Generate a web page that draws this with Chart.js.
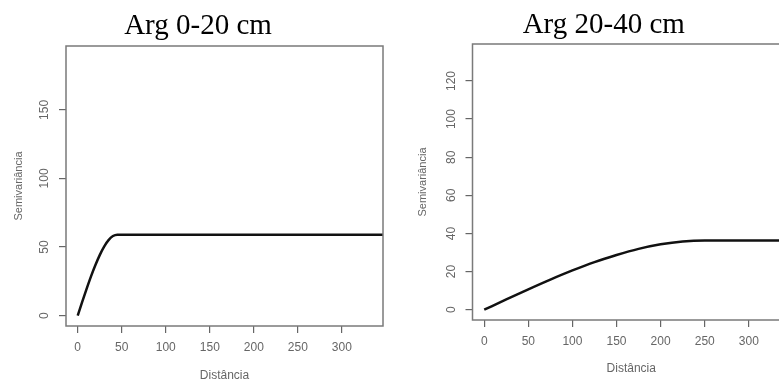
<!DOCTYPE html>
<html>
<head>
<meta charset="utf-8">
<script src="https://cdn.jsdelivr.net/npm/chart.js@4"></script>
<style>
  html, body { margin: 0; padding: 0; background: #fff; overflow: hidden; width: 779px; height: 385px; }
  canvas { position: absolute; top: 0; }
  #c1 { left: 0; }
  #c2 { left: 405px; }
</style>
</head>
<body>
<canvas id="c1" width="390" height="385"></canvas>
<canvas id="c2" width="390" height="385"></canvas>
<script>
// Arg 0-20 cm
const dist1 = [0, 5, 10, 15, 20, 25, 30, 35, 40, 45, 360];
const semi1 = [0, 9.8, 19.3, 28.4, 36.7, 44.1, 50.3, 55.0, 58.0, 59.0, 59.0];
const yTicks1 = [0, 50, 100, 150];

// Arg 20-40 cm
const dist2 = [0, 25, 50, 75, 100, 125, 150, 175, 200, 225, 250, 360];
const semi2 = [0, 5.4, 10.7, 15.8, 20.6, 25.0, 28.7, 31.9, 34.3, 35.8, 36.3, 36.3];
const yTicks2 = [0, 20, 40, 60, 80, 100, 120];

const xTicks = [0, 50, 100, 150, 200, 250, 300];

const gray = '#666';
const sans = 'Liberation Sans, Arial, sans-serif';

// moldura da área do gráfico (estilo R)
const boxPlugin = {
  id: 'box',
  afterDraw(chart) {
    const a = chart.chartArea;
    const ctx = chart.ctx;
    ctx.save();
    ctx.strokeStyle = '#7a7a7a';
    ctx.lineWidth = 1.5;
    ctx.strokeRect(a.left, a.top, a.right - a.left, a.bottom - a.top);
    ctx.restore();
  }
};

function makeChart(id, title, xs, ys, yTicks, o) {
  const ctx = document.getElementById(id).getContext('2d');
  return new Chart(ctx, {
    type: 'scatter',
    data: {
      datasets: [{
        data: xs.map((x, i) => ({ x: x, y: ys[i] })),
        showLine: true,
        borderColor: '#111',
        borderWidth: 2.5,
        pointRadius: 0,
        cubicInterpolationMode: 'monotone'
      }]
    },
    options: {
      responsive: false,
      animation: false,
      layout: { padding: { left: o.padLeft, right: o.padRight, top: 0, bottom: 0 } },
      plugins: {
        legend: { display: false },
        tooltip: { enabled: false },
        title: {
          display: true,
          text: title,
          color: '#000',
          font: { family: 'Liberation Serif, Times New Roman, serif', size: 29, weight: 'normal', lineHeight: 1.2 },
          padding: { top: o.titleTop, bottom: o.titleBottom }
        }
      },
      scales: {
        x: {
          type: 'linear',
          min: -13.3,
          max: 346.7,
          afterBuildTicks: s => { s.ticks = xTicks.map(v => ({ value: v })); },
          afterFit: s => { s.height = o.xHeight; },
          grid: { drawOnChartArea: false, drawTicks: true, tickLength: 7, tickColor: gray, lineWidth: 1.2 },
          border: { display: false },
          ticks: { color: gray, font: { family: sans, size: 12 }, padding: 7, maxRotation: 0 },
          title: {
            display: true, text: 'Distância', color: gray,
            font: { family: sans, size: 12, lineHeight: 1 },
            padding: { top: 0, bottom: o.xTitleBottom }
          }
        },
        y: {
          type: 'linear',
          min: o.yMin,
          max: o.yMax,
          afterBuildTicks: s => { s.ticks = yTicks.map(v => ({ value: v })); },
          afterFit: s => { s.width = o.yWidth; },
          grid: { drawOnChartArea: false, drawTicks: true, tickLength: 7, tickColor: gray, lineWidth: 1.2 },
          border: { display: false },
          ticks: { color: gray, font: { family: sans, size: 12 }, padding: 4, minRotation: 90, maxRotation: 90, crossAlign: 'center' },
          title: {
            display: true, text: 'Semivariância', color: gray,
            font: { family: sans, size: 11, lineHeight: 1 },
            padding: { top: 0, bottom: 0 }
          }
        }
      }
    },
    plugins: [boxPlugin]
  });
}

makeChart('c1', 'Arg 0-20 cm', dist1, semi1, yTicks1, {
  padLeft: 13, padRight: 7, yWidth: 53, xHeight: 59, xTitleBottom: 3,
  titleTop: 8.8, titleBottom: 2.4, yMin: -7.6, yMax: 196.6
});

makeChart('c2', 'Arg 20-40 cm', dist2, semi2, yTicks2, {
  padLeft: 12.5, padRight: 5, yWidth: 55, xHeight: 65, xTitleBottom: 10,
  titleTop: 8.1, titleBottom: 1.1, yMin: -5.4, yMax: 139.4
});
</script>
</body>
</html>
